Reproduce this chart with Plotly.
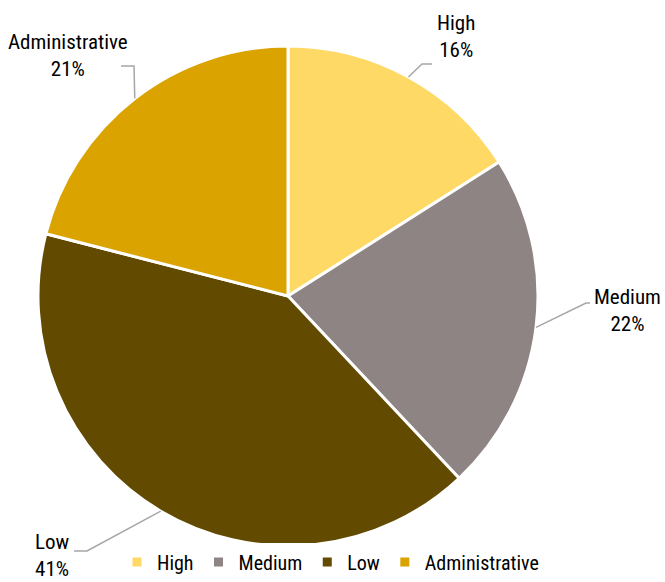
import math
import plotly.graph_objects as go

labels = ["High", "Medium", "Low", "Administrative"]
values = [16, 22, 41, 21]
colors = ["#FFD966", "#8F8484", "#624A00", "#DAA300"]

W, H = 665, 582
CX, CY, R = 288, 296, 250
FONT = "Roboto Condensed, Liberation Sans Narrow, Roboto, sans-serif"

# label text centre, elbow point, end of leader (pixels from top-left)
label_pos = [(456, 36), (627, 310), (52, 555), (68, 55)]
elbows = [(422, 64), (586, 303), (87, 551), (134, 66)]
ends = [(432, 64), (590, 303), (74, 551), (121, 66)]


def px(x, y):
    return x / W, 1 - y / H


fig = go.Figure()
fig.add_trace(go.Pie(
    labels=labels, values=values, sort=False, direction="clockwise",
    rotation=0, textinfo="none", hoverinfo="label+percent",
    marker=dict(colors=colors, line=dict(color="white", width=3)),
    domain=dict(x=[(CX - R) / W, (CX + R) / W],
                y=[1 - (CY + R) / H, 1 - (CY - R) / H]),
))

total = sum(values)
cum = 0
shapes = []
annotations = []
for i, (lab, v) in enumerate(zip(labels, values)):
    mid = (cum + v / 2) / total * 2 * math.pi
    cum += v
    sx = CX + R * math.sin(mid)
    sy = CY - R * math.cos(mid)
    p0 = px(sx, sy)
    p1 = px(*elbows[i])
    p2 = px(*ends[i])
    shapes.append(dict(
        type="path", xref="paper", yref="paper",
        path=f"M {p0[0]},{p0[1]} L {p1[0]},{p1[1]} L {p2[0]},{p2[1]}",
        line=dict(color="#A6A6A6", width=1.5),
    ))
    tx, ty = px(*label_pos[i])
    annotations.append(dict(
        x=tx, y=ty, xref="paper", yref="paper", showarrow=False,
        text=f"{lab}<br>{v / total * 100:.0f}%", align="center",
        xanchor="center", yanchor="middle",
        font=dict(family=FONT, size=21, color="#000000"),
    ))

fig.update_layout(
    width=W, height=H,
    margin=dict(l=0, r=0, t=0, b=0),
    paper_bgcolor="white", plot_bgcolor="white",
    shapes=shapes, annotations=annotations,
    showlegend=True,
    legend=dict(orientation="h", x=0.497, xanchor="center", y=20 / H, yanchor="middle",
                font=dict(family=FONT, size=20, color="#000000"),
                itemclick=False),
)

# drop the page's default body margin so the figure sits at the window origin
fig.write_html("out.html", config={"displayModeBar": False},
               post_script="document.body.style.margin='0';")
